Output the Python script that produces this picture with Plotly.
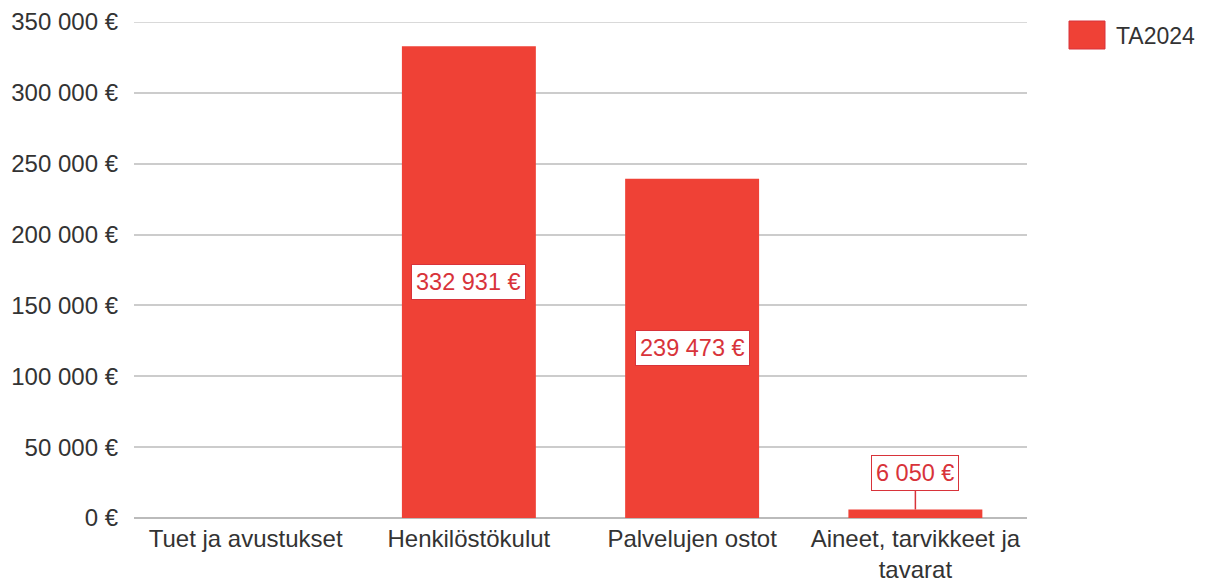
import plotly.graph_objects as go

categories = ["Tuet ja avustukset", "Henkilöstökulut", "Palvelujen ostot", "Aineet, tarvikkeet ja<br>tavarat"]
values = [0, 332931, 239473, 6050]
labels = ["", "332 931 €", "239 473 €", "6 050 €"]
series_name = "TA2024"
tick_vals = [0, 50000, 100000, 150000, 200000, 250000, 300000, 350000]
tick_text = ["0 €", "50 000 €", "100 000 €", "150 000 €", "200 000 €", "250 000 €", "300 000 €", "350 000 €"]

BAR = "#EF4136"
LABEL = "#D8333A"
TXT = "#333333"
GRID = "#CCCCCC"
FONT = "Liberation Sans, Arial, sans-serif"

# page has an 8px body margin, so the figure is drawn 8px smaller and offset
OFF = 8
W, H = 1207 - OFF, 583 - OFF
L, R, T, B = 134 - OFF, 180, 22 - OFF, 65
YMAX = tick_vals[-1]

fig = go.Figure()
fig.add_trace(go.Bar(x=categories, y=values, name=series_name, marker_color=BAR,
                     marker_line_width=0, width=0.6, showlegend=False))

annotations = []
for c, v, t in zip(categories, values, labels):
    if not t:
        continue
    common = dict(x=c, xref="x", yref="y", text=t, bgcolor="white", bordercolor=LABEL,
                  borderwidth=1, borderpad=4, font=dict(family=FONT, size=23.5, color=LABEL))
    if v > 50000:
        annotations.append(dict(y=v / 2, showarrow=False, **common))
    else:
        annotations.append(dict(y=v, showarrow=True, arrowhead=0, arrowwidth=1.5,
                                arrowcolor=LABEL, ax=0, ay=-36, **common))

pw, ph = W - L - R, H - T - B
def px(xp):
    return (xp - OFF - L) / pw
def py(yp):
    return (H - B - (yp - OFF)) / ph

annotations.append(dict(x=px(1114), y=py(36), xref="paper", yref="paper", text=series_name,
                        showarrow=False, xanchor="left", yanchor="middle",
                        font=dict(family=FONT, size=23, color=TXT)))

fig.update_layout(
    width=W, height=H,
    margin=dict(l=L, r=R, t=T, b=B, autoexpand=False),
    paper_bgcolor="white", plot_bgcolor="white",
    font=dict(family=FONT, size=24, color=TXT),
    xaxis=dict(showgrid=False, showline=False, ticks="", automargin=False,
               ticklabelstandoff=4, tickfont=dict(size=24, color=TXT)),
    yaxis=dict(range=[0, YMAX], tickvals=tick_vals, ticktext=tick_text, automargin=False,
               showgrid=True, gridcolor=GRID, gridwidth=1.5, zeroline=True,
               zerolinecolor="#BBBBBB", zerolinewidth=1.5, ticks="", ticklabelstandoff=15,
               tickfont=dict(size=24, color=TXT)),
    showlegend=False,
    annotations=annotations,
)
# top gridline (Plotly hides the gridline sitting on the plot edge)
fig.add_shape(type="line", xref="paper", yref="y", x0=0, x1=1, y0=YMAX, y1=YMAX,
              line=dict(color=GRID, width=1.5), layer="below")
fig.add_shape(type="rect", xref="paper", yref="paper", x0=px(1069), x1=px(1105),
              y0=py(49), y1=py(21), fillcolor=BAR, line=dict(color="#D8333A", width=1))
fig.write_html("out.html")
